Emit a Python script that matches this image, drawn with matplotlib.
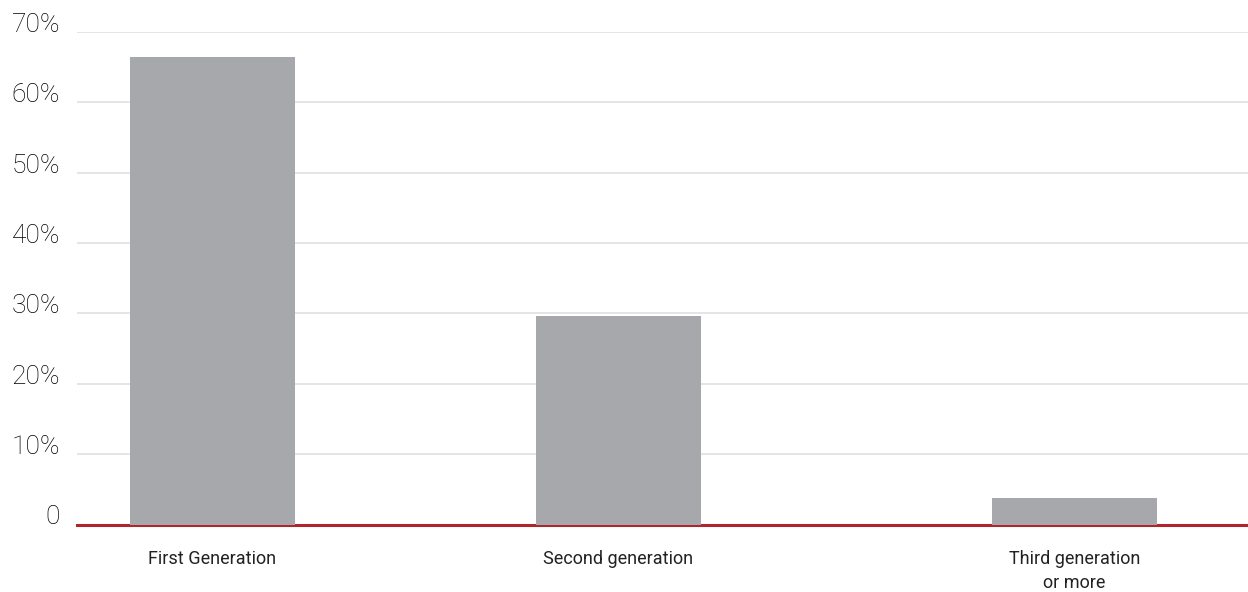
import matplotlib
matplotlib.use("Agg")
import matplotlib.pyplot as plt

categories = ["First Generation", "Second generation", "Third generation\nor more"]
values = [66.4, 29.7, 3.7]
yticks = [0, 10, 20, 30, 40, 50, 60, 70]
ytick_labels = ["0", "10%", "20%", "30%", "40%", "50%", "60%", "70%"]

plt.rcParams['font.family'] = ['Roboto', 'DejaVu Sans']

fig = plt.figure(figsize=(12.48, 5.92), dpi=100)
ax = fig.add_axes([77/1248, 67.5/592, 1 - 77/1248, (524.5-32)/592])

# category slot positions (layout; the last slot sits slightly further right)
positions = [0, 1, 2.123]
ax.bar(positions, values, width=0.406, color="#a7a8ab", zorder=3)
ax.axhline(0, color="#b0252c", lw=2.2, zorder=2, clip_on=False)

ax.set_xlim(-0.3337, 2.5505)
ax.set_ylim(0, 70)
ax.set_yticks([])
for yv, lab in zip(yticks, ytick_labels):
    if yv > 0:
        ax.axhline(yv, color="#dedede", lw=1.1, zorder=0)
    ax.text(-0.0145, yv, lab, transform=ax.get_yaxis_transform(), ha="right",
            va="baseline", fontsize=19, color="#000000", fontweight="light",
            clip_on=False)

ax.set_xticks(positions)
ax.set_xticklabels(categories, fontsize=13, color="#222222", linespacing=1.5,
                   fontweight="normal")
ax.tick_params(axis="x", length=0, pad=18)
ax.tick_params(axis="y", length=0)
for s in ax.spines.values():
    s.set_visible(False)

fig.savefig("out.png", dpi=100)
